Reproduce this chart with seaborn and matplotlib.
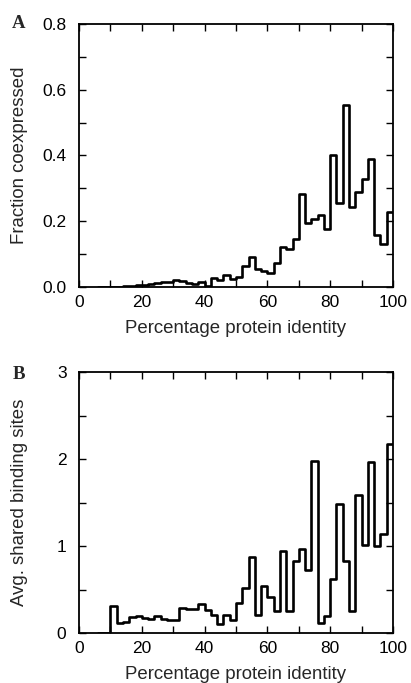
import numpy as np
import matplotlib
matplotlib.use("Agg")
import matplotlib.pyplot as plt
import seaborn as sns
from matplotlib.ticker import MultipleLocator, FormatStrFormatter

sns.set_theme(style="white")
plt.rcParams['font.family'] = ['Liberation Sans', 'DejaVu Sans']

# bins: 2% wide, from 6 to 100
bin_edges = list(range(6, 101, 2))
bin_centers = [e + 1 for e in bin_edges[:-1]]

frac_coexpressed = [
    0.001, 0.001, 0.001, 0.001, 0.002, 0.003,      # 6-18
    0.005, 0.007, 0.009, 0.013, 0.015, 0.015,      # 18-30
    0.020, 0.017, 0.013, 0.008, 0.016,             # 30-40
    0.002, 0.028, 0.020, 0.036, 0.024,             # 40-50
    0.031, 0.063, 0.091, 0.055, 0.049,             # 50-60
    0.044, 0.073, 0.121, 0.115, 0.147,             # 60-70
    0.283, 0.195, 0.207, 0.220, 0.175,             # 70-80
    0.400, 0.257, 0.553, 0.244, 0.289,             # 80-90
    0.329, 0.389, 0.159, 0.130, 0.227,             # 90-100
]

avg_shared_sites = [
    0.0, 0.0,                                      # 6-10
    0.306, 0.111, 0.126, 0.183, 0.195,             # 10-20
    0.168, 0.160, 0.199, 0.157, 0.153,             # 20-30
    0.145, 0.283, 0.275, 0.275, 0.332,             # 30-40
    0.260, 0.206, 0.107, 0.203, 0.145,             # 40-50
    0.344, 0.523, 0.879, 0.203, 0.539,             # 50-60
    0.417, 0.256, 0.948, 0.248, 0.833,             # 60-70
    0.967, 0.722, 1.979, 0.118, 0.199,             # 70-80
    0.623, 1.479, 0.833, 0.248, 1.582,             # 80-90
    1.013, 1.964, 1.001, 1.135, 2.167,             # 90-100
]

x_label = "Percentage protein identity"

fig = plt.figure(figsize=(4.11, 6.83), dpi=100)
axA = fig.add_axes([0.1922, 0.5798, 0.7640, 0.3851])
axB = fig.add_axes([0.1922, 0.0732, 0.7640, 0.3821])

TICK_FS = 12.5
LABEL_FS = 13.4

def style(ax, ymax, ymajor, yminor, ylabel):
    ax.set_xlim(0, 100)
    ax.set_ylim(0, ymax)
    ax.xaxis.set_major_locator(MultipleLocator(20))
    ax.xaxis.set_minor_locator(MultipleLocator(10))
    ax.yaxis.set_major_locator(MultipleLocator(ymajor))
    ax.yaxis.set_minor_locator(MultipleLocator(yminor))
    ax.tick_params(which="both", direction="in", top=True, right=True,
                   bottom=True, left=True, width=1.0, colors="black",
                   labelsize=TICK_FS)
    ax.tick_params(axis="x", which="both", pad=6)
    ax.tick_params(axis="y", which="both", pad=9)
    ax.tick_params(which="major", length=5)
    ax.tick_params(which="minor", length=5)
    for s in ax.spines.values():
        s.set_color("black")
        s.set_linewidth(1.3)
    ax.set_xlabel(x_label, fontsize=LABEL_FS, labelpad=7)
    ax.set_ylabel(ylabel, fontsize=LABEL_FS, va="center")
    ax.yaxis.set_label_coords(-0.188, 0.5)
    ax.set_facecolor("white")

sns.histplot(x=bin_centers, weights=frac_coexpressed, bins=bin_edges,
             element="step", fill=False, color="black", linewidth=1.9, ax=axA)
sns.histplot(x=bin_centers, weights=avg_shared_sites, bins=bin_edges,
             element="step", fill=False, color="black", linewidth=1.9, ax=axB)

style(axA, 0.8, 0.2, 0.1, "Fraction coexpressed")
style(axB, 3, 1, 0.5, "Avg. shared binding sites")
axA.yaxis.set_major_formatter(FormatStrFormatter("%.1f"))

fig.text(0.046, 0.966, "A", fontsize=13.5, fontweight="bold",
         family=["Liberation Serif"], ha="center", va="center")
fig.text(0.046, 0.451, "B", fontsize=13.5, fontweight="bold",
         family=["Liberation Serif"], ha="center", va="center")

fig.savefig("out.png", dpi=100, facecolor="white")
